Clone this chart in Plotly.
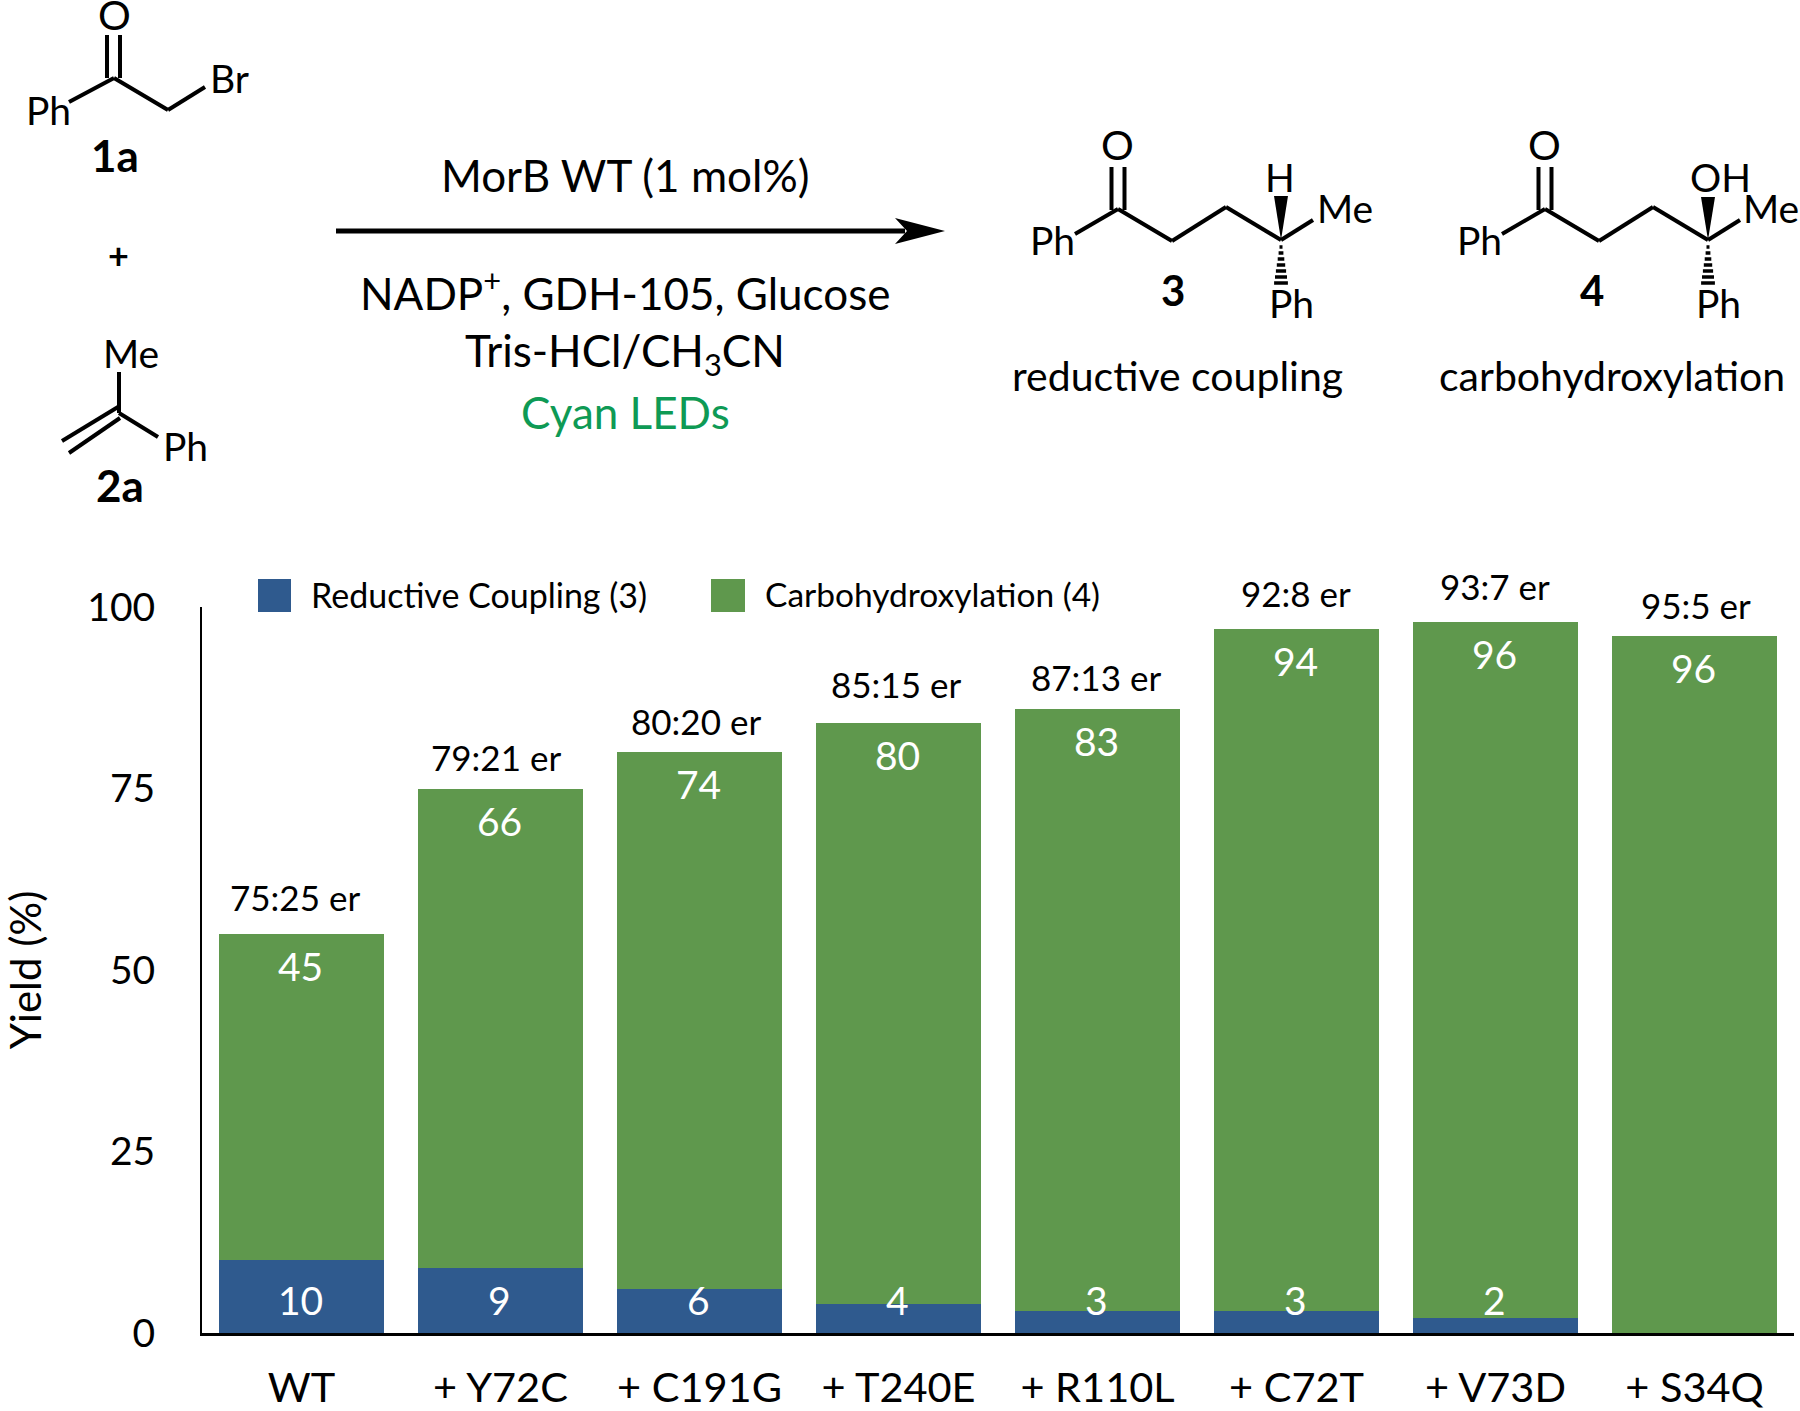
"""Yield of 3 and 4 over the MorB evolution lineage, with the reaction scheme on top."""
import plotly.graph_objects as go

WIDTH = 1800
HEIGHT = 1411
FONT = "Lato"
BLUE = "#2f5a8e"
GREEN = "#5f984d"
LED_GREEN = "#0e9a55"

variants = ["WT", "+ Y72C", "+ C191G", "+ T240E", "+ R110L", "+ C72T", "+ V73D", "+ S34Q"]
reductive = [10, 9, 6, 4, 3, 3, 2, 0]
carbohydroxylation = [45, 66, 74, 80, 83, 94, 96, 96]
er_labels = ["75:25 er", "79:21 er", "80:20 er", "85:15 er", "87:13 er", "92:8 er", "93:7 er", "95:5 er"]
y_ticks = [0, 25, 50, 75, 100]

# hand tuning of the er labels, they are not evenly placed in the original
er_gap = [37, 32, 31, 39, 32, 36, 36, 31]
er_nudge = [-7, -5, -4, -3, -2, -1, -1, 1]

shapes = []
annotations = []


def px(x):
    return x / WIDTH


def py(y):
    return 1 - y / HEIGHT


def label(x, y, text, size=39, color="black", bold=False):
    annotations.append(dict(
        x=px(x), y=py(y), xref="paper", yref="paper", showarrow=False,
        xanchor="center", yanchor="middle", text=f"<b>{text}</b>" if bold else text,
        font=dict(family=FONT, size=size, color=color),
    ))


def bond(x0, y0, x1, y1, width=4):
    shapes.append(dict(
        type="line", xref="paper", yref="paper",
        x0=px(x0), y0=py(y0), x1=px(x1), y1=py(y1),
        line=dict(color="black", width=width),
    ))


def polygon(points, color="black"):
    path = "M " + " L ".join(f"{px(x)} {py(y)}" for x, y in points) + " Z"
    shapes.append(dict(type="path", xref="paper", yref="paper", path=path,
                       fillcolor=color, line=dict(width=0)))


def box(x0, y0, x1, y1, color):
    shapes.append(dict(type="rect", xref="paper", yref="paper",
                       x0=px(x0), y0=py(y0), x1=px(x1), y1=py(y1),
                       fillcolor=color, line=dict(width=0)))


def draw_product(dx, top_text, top_x, me_x, number, wedge_top):
    # shared skeleton of 3 and 4, dx shifts it to the right
    label(1117 + dx, 145, "O", 41)
    bond(1111.5 + dx, 167, 1111.5 + dx, 210)
    bond(1124.5 + dx, 167, 1124.5 + dx, 210)
    label(1052 + dx, 240, "Ph")
    bond(1118 + dx, 209, 1075 + dx, 234)
    bond(1118 + dx, 209, 1172 + dx, 241)
    bond(1172 + dx, 241, 1226 + dx, 207)
    bond(1226 + dx, 207, 1281 + dx, 240)
    bond(1281 + dx, 240, 1313 + dx, 220)
    label(me_x, 208, "Me")
    polygon([(1281 + dx, 240), (1274 + dx, wedge_top), (1288 + dx, wedge_top)])
    label(top_x, 177, top_text)
    for i in range(7):
        half = 1.5 + i * 0.9
        y = 247 + i * 6
        bond(1281 + dx - half, y, 1281 + dx + half, y, width=3.5)
    label(1291 + dx, 303, "Ph")
    label(1173 + dx + (-8 if number == "4" else 0), 290, number, 42, bold=True)


# reactants
label(114, 15, "O", 41)
bond(107, 35, 107, 78)
bond(120, 35, 120, 78)
bond(114, 78, 69, 102)
bond(114, 78, 168, 110)
bond(168, 110, 205, 87)
label(48, 110, "Ph")
label(230, 78, "Br")
label(115, 155, "1a", 44, bold=True)
label(119, 255, "+", 36, bold=True)
label(131, 353, "Me")
bond(119, 372, 119, 413)
bond(118, 407, 62, 441)
bond(120, 418, 69, 453)
bond(119, 413, 158, 437)
label(185, 446, "Ph")
label(120, 485, "2a", 44, bold=True)

# reaction arrow and conditions
bond(336, 231, 905, 231, width=5)
polygon([(945, 231), (895, 218), (907, 231), (895, 244)])
label(625, 175, "MorB WT (1 mol%)", 44)
label(625, 291, "NADP<sup>+</sup>, GDH-105, Glucose", 44)
label(625, 354, "Tris-HCl/CH<sub>3</sub>CN", 44)
label(625, 412, "Cyan LEDs", 44, color=LED_GREEN)

# products
draw_product(0, "H", 1280, 1345, "3", 196)
draw_product(427, "OH", 1720, 1771, "4", 197)
label(1177, 375, "reductive coupling", 41)
label(1612, 375, "carbohydroxylation", 41)

# legend is drawn by hand, the plotly swatches cannot get this big
box(258, 579, 291, 612, BLUE)
box(711, 579, 745, 612, GREEN)
label(479, 594, "Reductive Coupling (3)", 34)
label(932, 594, "Carbohydroxylation (4)", 33.5)

# values inside the bars
for i, variant in enumerate(variants):
    total = reductive[i] + carbohydroxylation[i]
    annotations.append(dict(
        x=variant, y=total, xref="x", yref="y", yshift=-32, xshift=-1, showarrow=False,
        text=str(carbohydroxylation[i]), font=dict(family=FONT, size=39, color="white"),
    ))
    annotations.append(dict(
        x=variant, y=total, xref="x", yref="y", yshift=er_gap[i], xshift=er_nudge[i],
        showarrow=False, text=er_labels[i], font=dict(family=FONT, size=35, color="black"),
    ))
    if reductive[i] > 0:
        annotations.append(dict(
            x=variant, y=0, xref="x", yref="y", yshift=33, xshift=-1, showarrow=False,
            text=str(reductive[i]), font=dict(family=FONT, size=39, color="white"),
        ))

fig = go.Figure()
fig.add_trace(go.Bar(x=variants, y=reductive, name="Reductive Coupling (3)", marker=dict(color=BLUE, line=dict(width=0))))
fig.add_trace(go.Bar(x=variants, y=carbohydroxylation, name="Carbohydroxylation (4)", marker=dict(color=GREEN, line=dict(width=0))))

fig.update_layout(
    width=WIDTH,
    height=HEIGHT,
    barmode="stack",
    bargap=0.17,
    showlegend=False,
    plot_bgcolor="white",
    paper_bgcolor="white",
    margin=dict(l=0, r=0, t=0, b=0),
    font=dict(family=FONT, color="black"),
    shapes=shapes,
    annotations=annotations,
    xaxis=dict(
        domain=[202 / WIDTH, 1794 / WIDTH],
        range=[-0.5, 7.5],
        automargin=False,
        showline=True, linecolor="black", linewidth=3,
        ticks="", ticklabelstandoff=16,
        tickfont=dict(family=FONT, size=41.5),
        showgrid=False,
    ),
    yaxis=dict(
        domain=[78 / HEIGHT, 804 / HEIGHT],
        range=[0, 100],
        automargin=False,
        tickvals=y_ticks,
        showline=True, linecolor="black", linewidth=2,
        ticks="", ticklabelstandoff=37,
        tickfont=dict(family=FONT, size=39),
        showgrid=False, zeroline=False,
        title=dict(text="Yield (%)", font=dict(family=FONT, size=42), standoff=41),
    ),
)

# the page keeps the browser's default body margin otherwise
fig.write_html("out.html", config={"displayModeBar": False}, post_script="document.body.style.margin = '0';")
